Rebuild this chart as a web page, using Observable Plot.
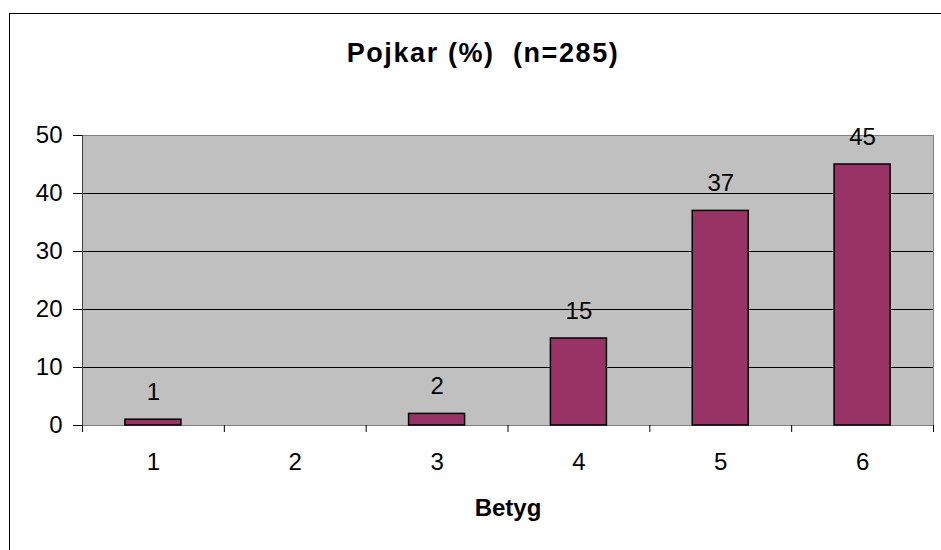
<!DOCTYPE html>
<html>
<head>
<meta charset="utf-8">
<script src="https://cdn.jsdelivr.net/npm/d3@7"></script>
<script src="https://cdn.jsdelivr.net/npm/@observablehq/plot@0.6"></script>
<style>
  html, body { margin: 0; padding: 0; background: #fff; }
  #wrap { position: relative; width: 941px; height: 550px; overflow: hidden; }
  #border { position: absolute; left: 9px; top: 13px; width: 940px; height: 545px;
            border-left: 1px solid #000; border-top: 1px solid #000; pointer-events: none; }
</style>
</head>
<body>
<div id="wrap"><div id="border"></div></div>
<script>
const categories = [1, 2, 3, 4, 5, 6];
const values = [1, 0, 2, 15, 37, 45];
const labels = ["1", "", "2", "15", "37", "45"];
const yTicks = [0, 10, 20, 30, 40, 50];
const title = "Pojkar (%)  (n=285)";
const xTitle = "Betyg";

const data = categories.map((c, i) => ({g: c, v: values[i], label: labels[i]}));
const bounds = [categories[0] - 0.5, ...categories.map(c => c + 0.5)];
const half = 0.1975;
const font = "'Liberation Sans', Arial, sans-serif";

const chart = Plot.plot({
  width: 941,
  height: 550,
  marginLeft: 82,
  marginRight: 8,
  marginTop: 135,
  marginBottom: 125,
  style: {fontFamily: font, fontSize: "24px", color: "#000", background: "transparent", overflow: "visible"},
  x: {type: "linear", domain: [bounds[0], bounds[bounds.length - 1]]},
  y: {domain: [0, 50]},
  marks: [
    Plot.frame({fill: "#c0c0c0", stroke: "#808080"}),
    Plot.gridY(yTicks.filter(t => t > 0 && t < 50), {stroke: "#000", strokeOpacity: 1}),
    Plot.ruleY([0], {stroke: "#808080"}),
    Plot.ruleX([bounds[0]], {stroke: "#404040"}),
    Plot.rectY(data, {x1: d => d.g - half, x2: d => d.g + half, y: "v", fill: "#993366", stroke: "#000", strokeWidth: 1.5}),
    Plot.text(data, {x: "g", y: "v", text: "label", lineAnchor: "bottom", dy: -20, fontSize: 24, fill: "#000"}),
    Plot.axisY({ticks: yTicks, tickSize: 9, tickPadding: 11, fontSize: 24, label: null, stroke: "#000"}),
    Plot.axisX(bounds, {tickSize: 7, tickFormat: () => "", label: null, stroke: "#000"}),
    Plot.axisX(categories, {tickSize: 0, tickPadding: 27, fontSize: 24, label: null, tickFormat: d => String(d)}),
    Plot.text([title], {frameAnchor: "top", lineAnchor: "bottom", dy: -74, dx: -25, fontSize: 27, fontWeight: "bold", fill: "#000", style: {letterSpacing: "1.6px"}}),
    Plot.text([xTitle], {frameAnchor: "bottom", lineAnchor: "top", dy: 73, fontSize: 24, fontWeight: "bold", fill: "#000"})
  ]
});
document.getElementById("wrap").prepend(chart);
// letter spacing for title (applied to text element)
chart.querySelectorAll("text").forEach(t => { if (t.textContent === title) t.setAttribute("letter-spacing", "1.6"); });
</script>
</body>
</html>
